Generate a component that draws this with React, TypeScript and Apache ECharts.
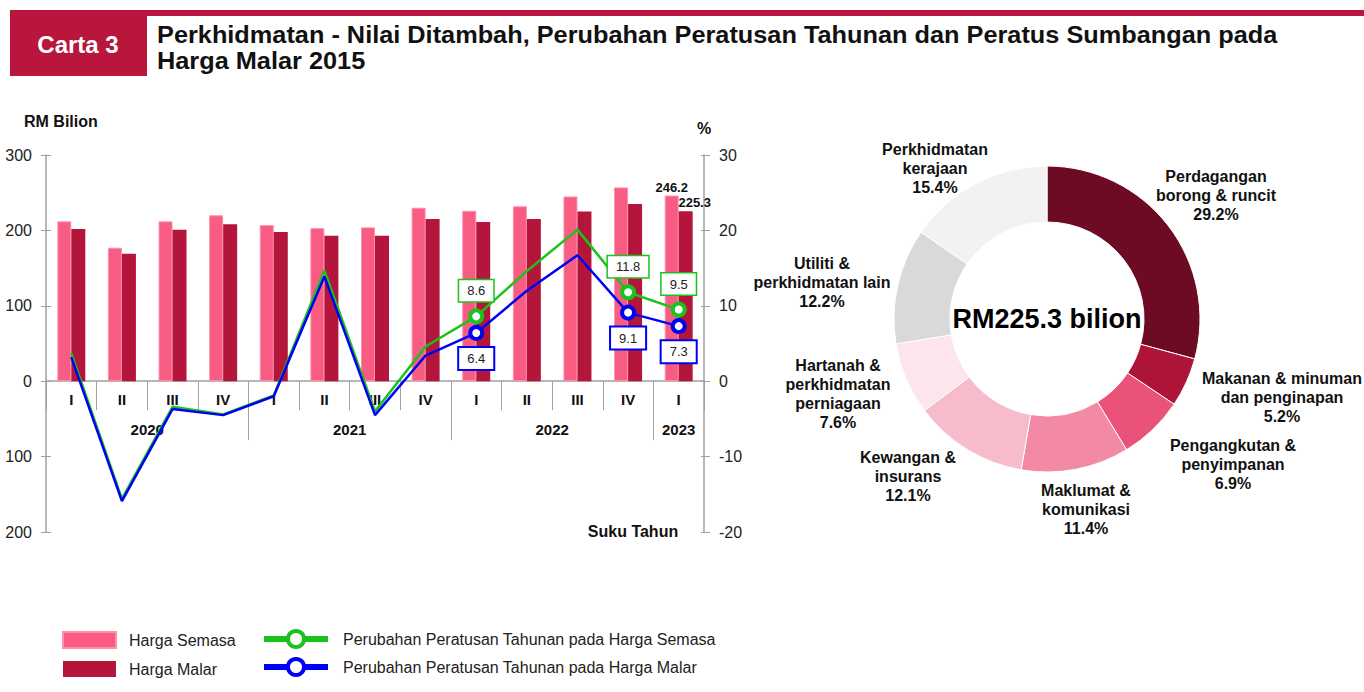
import React, { useEffect, useRef } from 'react';
import * as echarts from 'echarts';

const QUARTERS = ['I', 'II', 'III', 'IV', 'I', 'II', 'III', 'IV', 'I', 'II', 'III', 'IV', 'I'];
const YEARS = ['2020', '2021', '2022', '2023'];
const YEAR_QUARTERS = [4, 4, 4, 1];
const HARGA_SEMASA = [212, 177, 212, 220, 207, 203, 204, 230, 226, 232, 245, 257, 246.2];
const HARGA_MALAR = [202, 169, 201, 208, 198, 193, 193, 215, 211, 215, 225, 235, 225.3];
const PCT_SEMASA = [3.7, -15.6, -3.4, -4.4, -1.9, 14.7, -4.0, 4.6, 8.6, 14.6, 20.1, 11.8, 9.5];
const PCT_MALAR = [3.2, -15.9, -3.7, -4.5, -2.0, 13.9, -4.5, 3.4, 6.4, 12.0, 16.7, 9.1, 7.3];
const LABELLED_POINTS = [8, 11, 12];
const LEFT_AXIS = { min: -200, max: 300, interval: 100 };
const RIGHT_AXIS = { min: -20, max: 30, interval: 10 };

const SECTORS = [
  'Perdagangan\nborong & runcit',
  'Makanan & minuman\ndan penginapan',
  'Pengangkutan &\npenyimpanan',
  'Maklumat &\nkomunikasi',
  'Kewangan &\ninsurans',
  'Hartanah &\nperkhidmatan\nperniagaan',
  'Utiliti &\nperkhidmatan lain',
  'Perkhidmatan\nkerajaan',
];
const SHARES = [29.2, 5.2, 6.9, 11.4, 12.1, 7.6, 12.2, 15.4];
const TOTAL_TEXT = 'RM225.3 bilion';

const SERIES_NAMES = [
  'Harga Semasa',
  'Harga Malar',
  'Perubahan Peratusan Tahunan pada Harga Semasa',
  'Perubahan Peratusan Tahunan pada Harga Malar',
];

// styles / layout
const FONT = "'Liberation Sans', Arial, Helvetica, sans-serif";
const RED = '#B8163C';
const C_SEMASA = '#F95C82';
const C_MALAR = '#B4163B';
const C_GREEN = '#1CC21C';
const C_BLUE = '#0000F5';
const AXIS_GRAY = '#A0A0A0';
const PIE_COLORS = ['#6C0B23', '#AE1438', '#EB527A', '#F28AA5', '#F6BCCB', '#FDE5EC', '#D9D9D9', '#F2F2F2'];
const PIE_LABEL_POS = [
  [1216, 195],
  [1282, 397],
  [1233, 464],
  [1086, 509],
  [908, 476],
  [838, 394],
  [822, 282],
  [935, 168],
];
const GRID = { left: 46, top: 155, width: 658, height: 377 };

function buildYearAxis() {
  const count = QUARTERS.length * 2 + 1;
  const labels: string[] = new Array(count).fill('');
  const bounds: number[] = [];
  let start = 0;
  YEARS.forEach((y, i) => {
    const q = YEAR_QUARTERS[i];
    labels[start * 2 + q] = y;
    start += q;
    if (i < YEARS.length - 1) bounds.push(start * 2);
  });
  return { count, labels, bounds };
}

export default function App() {
  const ref = useRef<HTMLDivElement>(null);

  useEffect(() => {
    if (!ref.current) return;
    const chart = echarts.init(ref.current, null, { renderer: 'svg' });
    const yearAxis = buildYearAxis();
    const last = QUARTERS.length - 1;
    // place the category axes on the zero line of the left value axis
    const zeroOffset = -GRID.height * (0 - LEFT_AXIS.min) / (LEFT_AXIS.max - LEFT_AXIS.min);

    const lineData = (arr: number[]) =>
      arr.map((v, i) =>
        LABELLED_POINTS.includes(i) ? { value: v, label: { show: true } } : { value: v, symbol: 'none' }
      );

    const lineLabel = (color: string, position: string, borderWidth: number) => ({
      show: false,
      position,
      distance: 7,
      formatter: (p: any) => Number(p.value).toFixed(1),
      backgroundColor: '#fff',
      borderColor: color,
      borderWidth,
      padding: [4, 8, 4, 8],
      fontSize: 13,
      color: '#222',
      fontFamily: FONT,
    });

    const option: any = {
      animation: false,
      backgroundColor: '#fff',
      textStyle: { fontFamily: FONT },
      grid: {
        ...GRID,
        containLabel: false,
        outerBoundsMode: 'none',
      },
      legend: [
        {
          data: SERIES_NAMES.slice(0, 2),
          left: 62,
          top: 631,
          orient: 'vertical',
          icon: 'rect',
          itemWidth: 53,
          itemHeight: 16,
          itemGap: 12,
          padding: 0,
          selectedMode: false,
          textStyle: { fontSize: 16, color: '#222', lineHeight: 16, padding: [0, 0, 0, 8], fontFamily: FONT },
        },
        {
          data: SERIES_NAMES.slice(2, 4),
          left: 261,
          top: 629,
          orient: 'vertical',
          itemWidth: 64,
          itemHeight: 20,
          itemGap: 8,
          padding: 0,
          selectedMode: false,
          itemStyle: { borderWidth: 4 },
          lineStyle: { width: 6 },
          textStyle: { fontSize: 16, color: '#222', lineHeight: 20, padding: [0, 0, 0, 10], fontFamily: FONT },
        },
      ],
      xAxis: [
        {
          type: 'category',
          data: QUARTERS,
          boundaryGap: true,
          position: 'bottom',
          offset: zeroOffset,
          axisLine: { show: true, onZero: false, lineStyle: { color: AXIS_GRAY, width: 1.5 } },
          axisTick: { show: true, interval: 0, length: 29, lineStyle: { color: AXIS_GRAY } },
          axisLabel: { interval: 0, margin: 11, fontSize: 15, fontWeight: 'bold', color: '#111' },
          splitLine: { show: false },
        },
        {
          type: 'category',
          data: Array.from({ length: yearAxis.count }, (_, i) => String(i)),
          boundaryGap: false,
          position: 'bottom',
          offset: zeroOffset,
          axisLine: { show: false, onZero: false },
          axisTick: {
            show: true,
            interval: (i: number) => yearAxis.bounds.includes(i),
            length: 59,
            lineStyle: { color: AXIS_GRAY },
          },
          axisLabel: {
            interval: (i: number) => yearAxis.labels[i] !== '',
            formatter: (_v: string, i: number) => yearAxis.labels[i],
            margin: 41,
            fontSize: 15,
            fontWeight: 'bold',
            color: '#111',
          },
          splitLine: { show: false },
        },
      ],
      yAxis: [
        {
          type: 'value',
          position: 'left',
          ...LEFT_AXIS,
          axisLine: { show: true, lineStyle: { color: AXIS_GRAY, width: 1.5 } },
          axisTick: { show: true, length: 5, lineStyle: { color: AXIS_GRAY } },
          axisLabel: { formatter: (v: number) => String(Math.abs(v)), fontSize: 16, color: '#222', margin: 14 },
          splitLine: { show: false },
        },
        {
          type: 'value',
          position: 'right',
          ...RIGHT_AXIS,
          axisLine: { show: true, lineStyle: { color: AXIS_GRAY, width: 1.5 } },
          axisTick: { show: true, length: 6, lineStyle: { color: AXIS_GRAY } },
          axisLabel: { fontSize: 16, color: '#222', margin: 15 },
          splitLine: { show: false },
        },
        {
          type: 'value',
          position: 'left',
          ...LEFT_AXIS,
          axisLine: { show: false },
          axisTick: { show: true, inside: true, length: 5, lineStyle: { color: AXIS_GRAY } },
          axisLabel: { show: false },
          splitLine: { show: false },
        },
        {
          type: 'value',
          position: 'right',
          ...RIGHT_AXIS,
          axisLine: { show: false },
          axisTick: { show: true, inside: true, length: 3, lineStyle: { color: AXIS_GRAY } },
          axisLabel: { show: false },
          splitLine: { show: false },
        },
      ],
      series: [
        {
          name: SERIES_NAMES[0],
          type: 'bar',
          xAxisIndex: 0,
          yAxisIndex: 0,
          barWidth: 14,
          barGap: '0%',
          itemStyle: { color: C_SEMASA, borderColor: '#FD90AA', borderWidth: 1 },
          label: { show: false, position: 'top', distance: 2, fontSize: 13, fontWeight: 'bold', color: '#111' },
          data: HARGA_SEMASA.map((v, i) => (i === last ? { value: v, label: { show: true } } : v)),
          silent: true,
        },
        {
          name: SERIES_NAMES[1],
          type: 'bar',
          xAxisIndex: 0,
          yAxisIndex: 0,
          barWidth: 14,
          itemStyle: { color: C_MALAR },
          label: { show: false, position: 'top', distance: 2, offset: [9, 0], fontSize: 13, fontWeight: 'bold', color: '#111' },
          data: HARGA_MALAR.map((v, i) => (i === last ? { value: v, label: { show: true } } : v)),
          silent: true,
        },
        {
          name: SERIES_NAMES[2],
          type: 'line',
          xAxisIndex: 0,
          yAxisIndex: 1,
          symbol: 'circle',
          symbolSize: 12,
          itemStyle: { color: '#fff', borderColor: C_GREEN, borderWidth: 4 },
          lineStyle: { color: C_GREEN, width: 2.5 },
          label: lineLabel(C_GREEN, 'top', 1.5),
          data: lineData(PCT_SEMASA),
          silent: true,
          z: 3,
        },
        {
          name: SERIES_NAMES[3],
          type: 'line',
          xAxisIndex: 0,
          yAxisIndex: 1,
          symbol: 'circle',
          symbolSize: 12,
          itemStyle: { color: '#fff', borderColor: C_BLUE, borderWidth: 4 },
          lineStyle: { color: C_BLUE, width: 2.5 },
          label: lineLabel(C_BLUE, 'bottom', 2),
          data: lineData(PCT_MALAR),
          silent: true,
          z: 4,
        },
        {
          type: 'pie',
          center: [1047, 319],
          radius: [97, 153],
          startAngle: 90,
          clockwise: true,
          avoidLabelOverlap: false,
          silent: true,
          itemStyle: { borderColor: '#fff', borderWidth: 1 },
          label: {
            show: true,
            position: 'outside',
            formatter: '{b}\n{c}%',
            fontSize: 16,
            fontWeight: 'bold',
            lineHeight: 19,
            color: '#111',
            align: 'center',
            fontFamily: FONT,
          },
          labelLine: { show: false },
          labelLayout: (p: any) => {
            const pos = PIE_LABEL_POS[p.dataIndex];
            return { x: pos[0], y: pos[1], align: 'center', verticalAlign: 'middle' };
          },
          data: SECTORS.map((n, i) => ({ name: n, value: SHARES[i], itemStyle: { color: PIE_COLORS[i] } })),
        },
      ],
      graphic: [
        { type: 'rect', shape: { x: 10, y: 10, width: 1354, height: 6 }, style: { fill: RED } },
        { type: 'rect', shape: { x: 10, y: 10, width: 137, height: 66 }, style: { fill: RED } },
        {
          type: 'text',
          x: 78,
          y: 44,
          style: { text: 'Carta 3', fill: '#fff', fontSize: 24, fontWeight: 'bold', fontFamily: FONT, align: 'center', verticalAlign: 'middle' },
        },
        {
          type: 'text',
          x: 157,
          y: 22,
          scaleX: 1.055,
          style: {
            text: 'Perkhidmatan - Nilai Ditambah, Perubahan Peratusan Tahunan dan Peratus Sumbangan pada\nHarga Malar 2015',
            fill: '#111',
            fontSize: 24,
            fontWeight: 'bold',
            fontFamily: FONT,
            lineHeight: 26,
            align: 'left',
            verticalAlign: 'top',
          },
        },
        {
          type: 'text',
          x: 24,
          y: 121,
          style: { text: 'RM Bilion', fill: '#111', fontSize: 16, fontWeight: 'bold', fontFamily: FONT, align: 'left', verticalAlign: 'middle' },
        },
        {
          type: 'text',
          x: 704,
          y: 128,
          style: { text: '%', fill: '#111', fontSize: 16, fontWeight: 'bold', fontFamily: FONT, align: 'center', verticalAlign: 'middle' },
        },
        {
          type: 'text',
          x: 633,
          y: 531,
          style: { text: 'Suku Tahun', fill: '#111', fontSize: 16, fontWeight: 'bold', fontFamily: FONT, align: 'center', verticalAlign: 'middle' },
        },
        {
          type: 'text',
          x: 1047,
          y: 319,
          style: { text: TOTAL_TEXT, fill: '#000', fontSize: 27, fontWeight: 'bold', fontFamily: FONT, align: 'center', verticalAlign: 'middle' },
        },
      ],
    };

    chart.setOption(option);
    return () => chart.dispose();
  }, []);

  return (
    <div
      ref={ref}
      style={{ position: 'absolute', left: 0, top: 0, width: 1364, height: 692, background: '#fff' }}
    />
  );
}
